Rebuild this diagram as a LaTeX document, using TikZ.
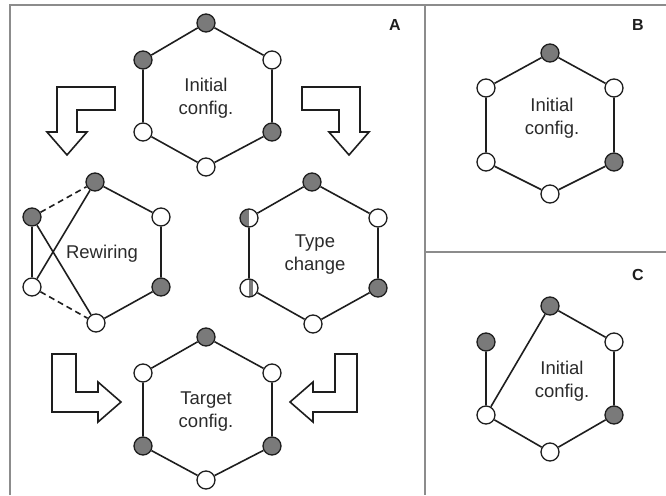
\documentclass[tikz,border=0pt]{standalone}
\usepackage{fontspec}
\setmainfont{Liberation Sans}
\usepackage{xcolor}
\usepackage{tikz}
\definecolor{nodegray}{HTML}{7A7A7A}
\definecolor{inkdark}{HTML}{1E1E1E}
\definecolor{textgray}{HTML}{2A2A2A}
\definecolor{framegray}{HTML}{8C8C8C}

\begin{document}
\begin{tikzpicture}[x=1pt,y=-1pt,
    dot/.style={circle, draw=inkdark, line width=1.3pt, fill=white,
      minimum size=18pt, inner sep=0pt},
    gdot/.style={dot, fill=nodegray},
    edge/.style={draw=inkdark, line width=1.6pt},
    dashedge/.style={edge, dash pattern=on 6pt off 4pt},
    lbl/.style={align=center, text=textgray, font=\fontsize{18.5}{23}\selectfont},
    panel/.style={text=inkdark, font=\fontsize{16}{16}\selectfont\bfseries},
    bigarrow/.style={draw=inkdark, line width=1.6pt, fill=white, line join=miter},
    frame/.style={draw=framegray, line width=1.5pt}]
  \useasboundingbox (0,0) rectangle (666,495);

  % Cornice
  \draw[frame] (10,495)--(10,5)--(666,5);
  \draw[frame] (425,5)--(425,495);
  \draw[frame] (425,252)--(666,252);

  % Etichette pannelli
  \node[panel] (pa) at (395,25) {A};
  \node[panel] (pb) at (638,25) {B};
  \node[panel] (pc) at (638,275) {C};

  % A: configurazione iniziale
  \node[gdot] (i1) at (206,23) {};
  \node[dot]  (i2) at (272,60) {};
  \node[gdot] (i3) at (272,132) {};
  \node[dot]  (i4) at (206,167) {};
  \node[dot]  (i5) at (143,132) {};
  \node[gdot] (i6) at (143,60) {};
  \draw[edge] (i1)--(i2)--(i3)--(i4)--(i5)--(i6)--(i1);
  \node[lbl] (itext) at (206,98) {Initial\\config.};

  % A: rewiring
  \node[gdot] (r1) at (95,182) {};
  \node[dot]  (r2) at (161,217) {};
  \node[gdot] (r3) at (161,287) {};
  \node[dot]  (r4) at (96,323) {};
  \node[dot]  (r5) at (32,287) {};
  \node[gdot] (r6) at (32,217) {};
  \draw[edge] (r1)--(r2)--(r3)--(r4);
  \draw[dashedge] (r6)--(r1);
  \draw[dashedge] (r5)--(r4);
  \draw[edge] (r6)--(r5);
  \draw[edge] (r1)--(r5);
  \draw[edge] (r6)--(r4);
  \node[lbl] (rtext) at (102,254) {Rewiring};

  % A: type change
  \node[gdot] (t1) at (312,182) {};
  \node[dot]  (t2) at (378,218) {};
  \node[gdot] (t3) at (378,288) {};
  \node[dot]  (t4) at (313,324) {};
  \node[dot, path picture={\fill[nodegray]
      (path picture bounding box.south)
      rectangle ([xshift=4pt]path picture bounding box.north);}]
    (t5) at (249,288) {};
  \node[dot, path picture={\fill[nodegray]
      (path picture bounding box.south west)
      rectangle (path picture bounding box.north);}]
    (t6) at (249,218) {};
  \draw[edge] (t1)--(t2)--(t3)--(t4)--(t5)--(t6)--(t1);
  \node[lbl] (ttext) at (315,255) {Type\\change};

  % A: configurazione finale
  \node[gdot] (g1) at (206,337) {};
  \node[dot]  (g2) at (272,373) {};
  \node[gdot] (g3) at (272,446) {};
  \node[dot]  (g4) at (206,480) {};
  \node[gdot] (g5) at (143,446) {};
  \node[dot]  (g6) at (143,373) {};
  \draw[edge] (g1)--(g2)--(g3)--(g4)--(g5)--(g6)--(g1);
  \node[lbl] (gtext) at (206,412) {Target\\config.};

  % Frecce
  \draw[bigarrow] (115,87)--(57,87)--(57,132)--(47,132)--(67,155)
    --(87,132)--(77,132)--(77,110)--(115,110)--cycle;
  \draw[bigarrow] (302,87)--(360,87)--(360,132)--(369,132)--(349,155)
    --(329,132)--(339,132)--(339,110)--(302,110)--cycle;
  \draw[bigarrow] (52,354)--(76,354)--(76,392)--(98,392)--(98,382)
    --(121,402)--(98,422)--(98,412)--(52,412)--cycle;
  \draw[bigarrow] (357,354)--(335,354)--(335,392)--(313,392)--(313,382)
    --(290,402)--(313,422)--(313,412)--(357,412)--cycle;

  % B
  \node[gdot] (b1) at (550,53) {};
  \node[dot]  (b2) at (614,88) {};
  \node[gdot] (b3) at (614,162) {};
  \node[dot]  (b4) at (550,194) {};
  \node[dot]  (b5) at (486,162) {};
  \node[dot]  (b6) at (486,88) {};
  \draw[edge] (b1)--(b2)--(b3)--(b4)--(b5)--(b6)--(b1);
  \node[lbl] (btext) at (552,118) {Initial\\config.};

  % C
  \node[gdot] (c1) at (550,306) {};
  \node[dot]  (c2) at (614,342) {};
  \node[gdot] (c3) at (614,415) {};
  \node[dot]  (c4) at (550,452) {};
  \node[dot]  (c5) at (486,415) {};
  \node[gdot] (c6) at (486,342) {};
  \draw[edge] (c1)--(c2)--(c3)--(c4)--(c5)--(c6);
  \draw[edge] (c5)--(c1);
  \node[lbl] (ctext) at (562,381) {Initial\\config.};
\end{tikzpicture}
\end{document}
